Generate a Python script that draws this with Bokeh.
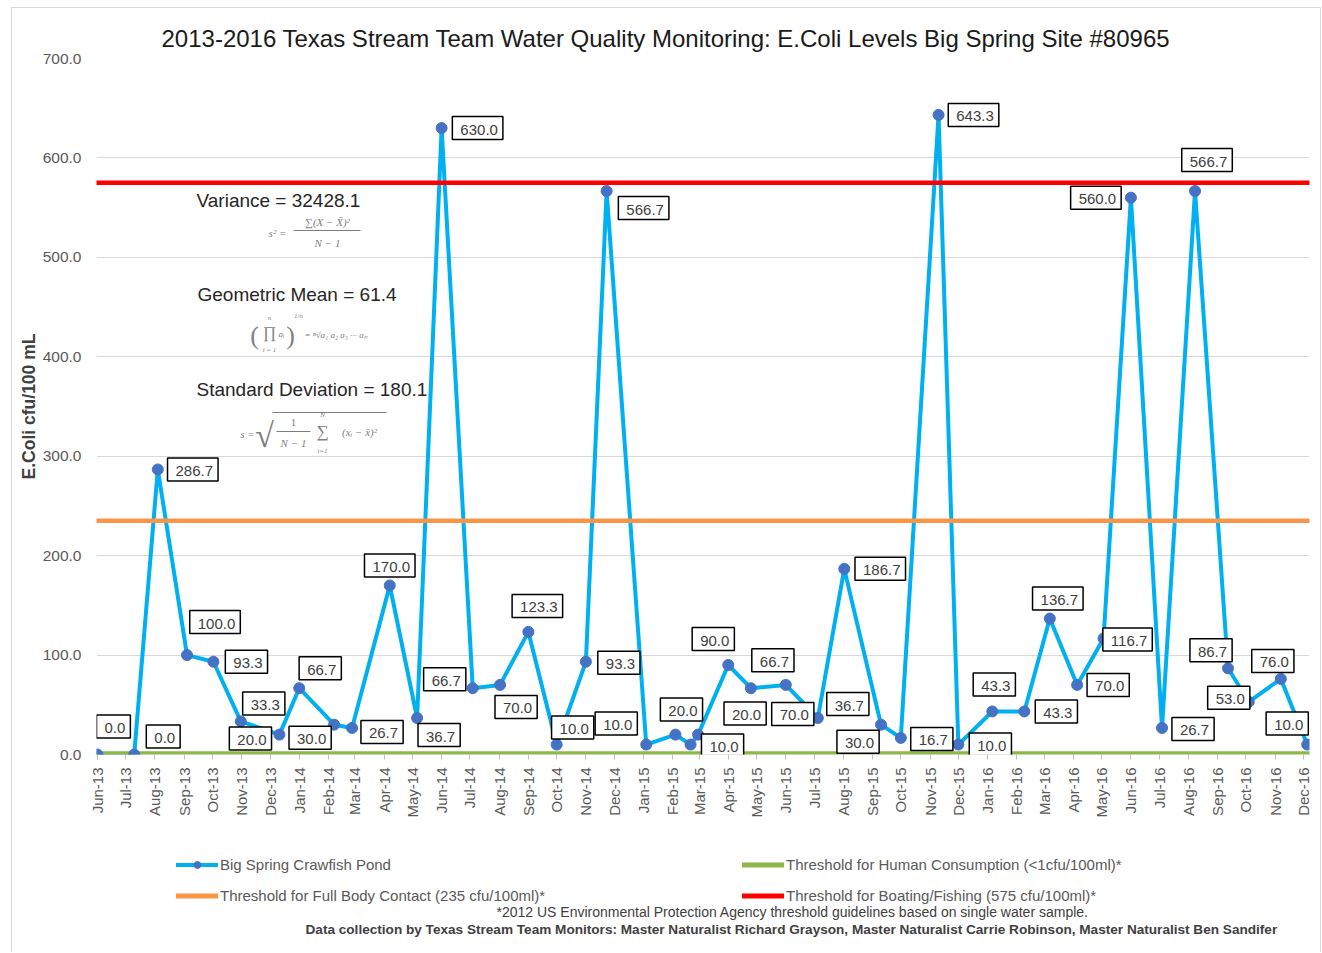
import pandas as pd
from math import pi
from bokeh.plotting import figure
from bokeh.layouts import column
from bokeh.models import (Range1d, FixedTicker, DatetimeTickFormatter, Label, Legend,
                          LegendItem, PrintfTickFormatter, BoxAnnotation)
from bokeh.embed import file_html
from bokeh.resources import INLINE

# ---------------- data ----------------
sample_dates = [
    "2013-06-01", "2013-07-10", "2013-08-04", "2013-09-04", "2013-10-02", "2013-10-31", "2013-12-11",
    "2014-01-01", "2014-02-07", "2014-02-26", "2014-04-07", "2014-05-06", "2014-06-01", "2014-07-04",
    "2014-08-02", "2014-09-01", "2014-10-01", "2014-11-01", "2014-11-23",
    "2015-01-04", "2015-02-04", "2015-02-20", "2015-02-28", "2015-04-01", "2015-04-25", "2015-06-01",
    "2015-07-05", "2015-08-02", "2015-09-10", "2015-10-01", "2015-11-10", "2015-12-01",
    "2016-01-06", "2016-02-09", "2016-03-07", "2016-04-05", "2016-05-03", "2016-06-01", "2016-07-04",
    "2016-08-08", "2016-09-12", "2016-10-04", "2016-11-07", "2016-12-05",
]
ecoli = [
    0.0, 0.0, 286.7, 100.0, 93.3, 33.3, 20.0,
    66.7, 30.0, 26.7, 170.0, 36.7, 630.0, 66.7, 70.0, 123.3, 10.0, 93.3, 566.7,
    10.0, 20.0, 10.0, 20.0, 90.0, 66.7, 70.0, 36.7, 186.7, 30.0, 16.7, 643.3, 10.0,
    43.3, 43.3, 136.7, 70.0, 116.7, 560.0, 26.7, 566.7, 86.7, 53.0, 76.0, 10.0,
]
# data-label placement (screen px; dy positive = downward)
label_dx = [16, 29, 35, 28, 33, 23, -29, 21, -24, 30, 0, 22, 36, -28, 16, 9, 16, 33, 37,
            -30, 6, 32, 47, -15, 22, 7, 30, 36, -23, 31, 35, 32,
            2, 32, 8, 31, 24, -35, 31, 12, -17, -20, -8, -20]
label_dy = [-28, -18, 0, -33, 0, -18, 4, -20, 13, 4, -20, 17, 0, -9, 22, -26, -17, 1, 17,
            -21, -25, 1, -21, -26, -28, 29, -14, 0, 17, 1, 0, 0,
            -27, 0, -20, 0, 1, 0, 1, -31, -18, -4, -18, -21]

series_name = "Big Spring Crawfish Pond"
threshold_names = ["Threshold for Human Consumption (<1cfu/100ml)*",
                   "Threshold for Full Body Contact (235 cfu/100ml)*",
                   "Threshold for Boating/Fishing (575 cfu/100ml)*"]
threshold_values = [1, 235, 575]
threshold_colors = ["#8DB848", "#F79646", "#FF0000"]
series_color = "#00B0F0"
marker_color = "#4472C4"

y_ticks = [0, 100, 200, 300, 400, 500, 600, 700]
month_ticks = pd.date_range("2013-06-01", "2016-12-01", freq="MS")

title_text = "2013-2016 Texas Stream Team Water Quality Monitoring: E.Coli Levels Big Spring Site #80965"
stat_texts = ["Variance = 32428.1", "Geometric Mean = 61.4", "Standard Deviation = 180.1"]
footnote1 = "*2012 US Environmental Protection Agency threshold  guidelines based on single water sample."
footnote2 = ("Data collection  by Texas Stream Team Monitors:  Master Naturalist Richard Grayson,  "
             "Master Naturalist Carrie Robinson,  Master Naturalist Ben Sandifer")

# ---------------- helpers ----------------
def to_ms(ts):
    return (pd.Timestamp(ts) - pd.Timestamp("1970-01-01")) / pd.Timedelta(milliseconds=1)

x_dt = pd.to_datetime(sample_dates)
x_ms = [to_ms(d) for d in x_dt]
tick_ms = [to_ms(d) for d in month_ticks]

x_start = to_ms(pd.Timestamp("2013-06-01") - pd.Timedelta(days=1))
x_end = to_ms(pd.Timestamp("2016-12-01") + pd.Timedelta(hours=6.4 * 24))

# canvas placed at page (12, 8) by margin + 1px border
OFFX, OFFY = 12, 8
W = 1308
H1 = 812          # main chart: page y 8 .. 820
H2 = 132          # legend/footnote strip: page y 820 .. 952
PL, PR, PT, PB = 96, 1309, 58, 755     # frame, page coordinates
FONT = "Liberation Sans"

p = figure(width=W, height=H1, x_axis_type="datetime",
           x_range=Range1d(x_start, x_end), y_range=Range1d(0, 700),
           output_backend="svg", toolbar_location=None, title=title_text,
           min_border_left=PL - OFFX, min_border_right=W - (PR - OFFX),
           min_border_top=PT - OFFY, min_border_bottom=H1 - (PB - OFFY))
p.outline_line_color = None
p.background_fill_color = "white"
p.border_fill_color = "white"
p.xgrid.visible = False
p.ygrid.grid_line_color = "#D9D9D9"
p.ygrid.grid_line_width = 1

# title
p.title.align = "left"
p.title.offset = 161 - PL
p.title.text_font = FONT
p.title.text_font_size = "24px"
p.title.text_font_style = "normal"
p.title.text_color = "#1A1A1A"
p.title.standoff = 14

# y axis
p.yaxis.ticker = FixedTicker(ticks=y_ticks)
p.yaxis.formatter = PrintfTickFormatter(format="%.1f")
p.yaxis.axis_line_color = None
p.yaxis.major_tick_line_color = None
p.yaxis.minor_tick_line_color = None
p.yaxis.major_tick_out = 0
p.yaxis.major_tick_in = 0
p.yaxis.minor_tick_out = 0
p.yaxis.major_label_standoff = 15
p.yaxis.major_label_text_font = FONT
p.yaxis.major_label_text_font_size = "15.5px"
p.yaxis.major_label_text_color = "#595959"
p.yaxis.axis_label = "E.Coli cfu/100 mL"
p.yaxis.axis_label_text_font = FONT
p.yaxis.axis_label_text_font_size = "17.5px"
p.yaxis.axis_label_text_font_style = "bold"
p.yaxis.axis_label_text_color = "#404040"
p.yaxis.axis_label_standoff = 1

# x axis
p.xaxis.ticker = FixedTicker(ticks=tick_ms)
p.xaxis.formatter = DatetimeTickFormatter(days="%b-%y", months="%b-%y", years="%b-%y",
                                          hours="%b-%y", minutes="%b-%y")
p.xaxis.major_label_orientation = pi / 2
p.xaxis.axis_line_color = None
p.xaxis.major_tick_line_color = "#BFBFBF"
p.xaxis.major_tick_out = 5
p.xaxis.major_tick_in = 0
p.xaxis.minor_tick_line_color = None
p.xaxis.minor_tick_out = 0
p.xaxis.major_label_standoff = 8
p.xaxis.major_label_text_font = FONT
p.xaxis.major_label_text_font_size = "15px"
p.xaxis.major_label_text_color = "#595959"

# series
r_line = p.line(x_dt, ecoli, line_color=series_color, line_width=4, line_join="round")
for val, col in zip(threshold_values, threshold_colors):
    p.line([x_start, x_end], [val, val], line_color=col, line_width=4.5, line_cap="round")
r_pts = p.scatter(x_dt, ecoli, size=11, fill_color=marker_color, line_color=marker_color)

# data labels
for xv, yv, dx, dy in zip(x_ms, ecoli, label_dx, label_dy):
    p.add_layout(Label(x=xv, y=yv, x_offset=dx, y_offset=-dy, text=f"{yv:.1f}",
                       text_align="center", text_baseline="middle",
                       text_font=FONT, text_font_size="15px", text_color="#404040",
                       background_fill_color="white", border_line_color="black",
                       border_line_width=1.5, padding=(8, 5, 8, 5)))

# screen-unit helpers (relative to frame bottom-left of the main chart)
def sx(px):
    return px - PL

def sy(py):
    return PB - py

def add_text(fig, text, X, Y, size, color="#262626", align="left", font=FONT, style="normal"):
    fig.add_layout(Label(x=X, y=Y, x_units="screen", y_units="screen", text=text,
                         text_align=align, text_baseline="middle", text_font=font,
                         text_font_size=size, text_color=color, text_font_style=style))

def t_main(text, px, py, size, color="#262626", align="left", font=FONT, style="normal"):
    add_text(p, text, sx(px), sy(py), size, color, align, font, style)

def add_bar(px0, px1, py, color="#7F7F7F"):
    p.add_layout(BoxAnnotation(left=sx(px0), right=sx(px1), bottom=sy(py) - 0.5, top=sy(py) + 0.5,
                               left_units="screen", right_units="screen",
                               bottom_units="screen", top_units="screen",
                               fill_color=color, fill_alpha=1, line_color=None))

# statistics
t_main(stat_texts[0], 196, 201, "19px")
t_main(stat_texts[1], 197, 295, "19px")
t_main(stat_texts[2], 196, 390, "19px")

SER = "Liberation Serif"
G = "#7F7F7F"
# variance formula
t_main("s² =", 277, 233, "11px", G, "center", SER, "italic")
t_main("∑(X − X̄)²", 327, 222, "11px", G, "center", SER, "italic")
add_bar(293, 360, 231)
t_main("N − 1", 327, 243, "11px", G, "center", SER, "italic")
# geometric mean formula
t_main("(", 254, 336, "26px", G, "center", SER)
t_main("∏", 269, 333, "16px", G, "center", SER)
t_main("n", 269, 318, "7px", G, "center", SER, "italic")
t_main("i = 1", 269, 350, "7px", G, "center", SER, "italic")
t_main("aᵢ", 281, 334, "9px", G, "center", SER, "italic")
t_main(")", 290, 336, "26px", G, "center", SER)
t_main("1/n", 298, 316, "7px", G, "center", SER, "italic")
t_main("= ⁿ√a₁ a₂ a₃ ··· aₙ", 304, 335, "9px", G, "left", SER, "italic")
# standard deviation formula
t_main("s =", 247, 434, "11px", G, "center", SER, "italic")
t_main("√", 264, 436, "34px", G, "center", SER)
add_bar(272, 386, 413)
t_main("1", 293, 423, "11px", G, "center", SER)
add_bar(276, 310, 432)
t_main("N − 1", 293, 443, "11px", G, "center", SER, "italic")
t_main("∑", 322, 432, "17px", G, "center", SER)
t_main("N", 322, 415, "7px", G, "center", SER, "italic")
t_main("i=1", 322, 451, "7px", G, "center", SER, "italic")
t_main("(xᵢ − x̄)²", 359, 432, "11px", G, "center", SER, "italic")

# ---------------- legend + footnote strip ----------------
# (its frame is aligned with the main chart's frame by the column layout)
Y2 = OFFY + H1   # page y of strip top
p2 = figure(width=W, height=H2, x_range=Range1d(0, 1), y_range=Range1d(0, 1),
            x_axis_location=None, y_axis_location=None, output_backend="svg",
            toolbar_location=None, title=None,
            min_border_left=0, min_border_right=0, min_border_top=0, min_border_bottom=0)
p2.outline_line_color = None
p2.grid.visible = False
p2.background_fill_color = "white"
p2.border_fill_color = "white"

nan = float("nan")
k_line = p2.line([nan], [nan], line_color=series_color, line_width=4, line_cap="round")
k_pts = p2.scatter([nan], [nan], size=9, fill_color=marker_color, line_color=marker_color)
k_thr = [p2.line([nan], [nan], line_color=c, line_width=5, line_cap="round") for c in threshold_colors]

def sx2(px):
    return px - PL

def sy2(py):
    return (Y2 + H2) - py

legend = Legend(items=[
    LegendItem(label=series_name, renderers=[k_line, k_pts]),
    LegendItem(label=threshold_names[0], renderers=[k_thr[0]]),
    LegendItem(label=threshold_names[1], renderers=[k_thr[1]]),
    LegendItem(label=threshold_names[2], renderers=[k_thr[2]]),
], location=(sx2(176), sy2(903.5)), orientation="horizontal", ncols=2,
    glyph_width=42, glyph_height=17, label_height=17, label_width=508,
    label_standoff=2, spacing=14, padding=0, margin=0,
    border_line_color=None, background_fill_alpha=0,
    label_text_font=FONT, label_text_font_size="15px", label_text_color="#595959")
p2.add_layout(legend)

add_text(p2, footnote1, sx2(496), sy2(911), "14px", "#404040", "left")
add_text(p2, footnote2, sx2(305), sy2(929), "13.6px", "#404040", "left", FONT, "bold")

layout = column(p, p2, spacing=0, margin=(7, 0, 0, 11),
                styles={"border-left": "1px solid #D9D9D9", "border-top": "1px solid #D9D9D9",
                        "border-right": "1px solid #D9D9D9"})

open("out.html", "w").write(file_html(layout, INLINE))
